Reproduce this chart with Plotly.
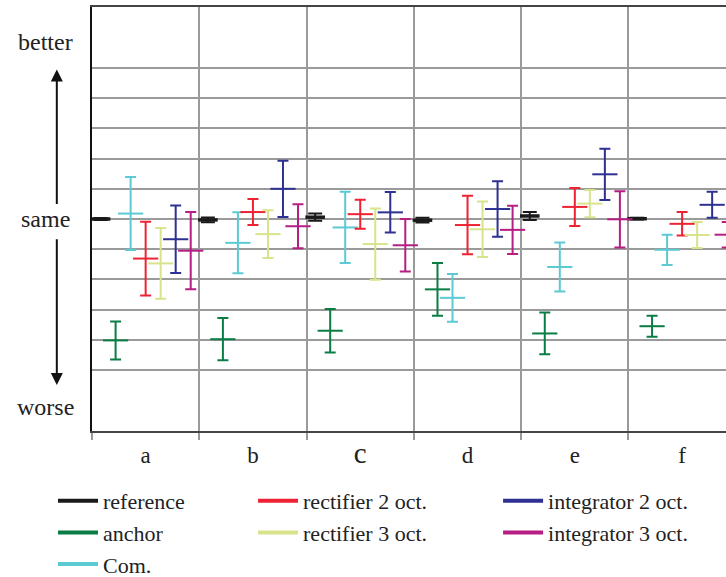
import plotly.graph_objects as go

categories = ["a", "b", "c", "d", "e", "f"]
tick_labels = ["a", "b", "<span style='font-size:29px'>c</span>", "d", "e", "f"]

series_names = ["reference", "anchor", "Com.", "rectifier 2 oct.", "rectifier 3 oct.",
                "integrator 2 oct.", "integrator 3 oct."]

reference_mean = [0.00, -0.03, 0.06, -0.04, 0.10, 0.01]
reference_err = [0.03, 0.08, 0.12, 0.08, 0.13, 0.03]

anchor_mean = [-4.02, -3.98, -3.70, -2.33, -3.79, -3.55]
anchor_err = [0.63, 0.70, 0.72, 0.87, 0.69, 0.35]

com_mean = [0.18, -0.79, -0.28, -2.61, -1.59, -1.02]
com_err = [1.21, 1.01, 1.18, 0.79, 0.81, 0.50]

rect2_mean = [-1.31, 0.23, 0.16, -0.20, 0.40, -0.16]
rect2_err = [1.22, 0.43, 0.48, 0.97, 0.63, 0.39]

rect3_mean = [-1.47, -0.50, -0.83, -0.34, 0.51, -0.53]
rect3_err = [1.17, 0.79, 1.18, 0.92, 0.45, 0.43]

int2_mean = [-0.67, 1.00, 0.22, 0.33, 1.48, 0.47]
int2_err = [1.12, 0.93, 0.67, 0.92, 0.85, 0.43]

int3_mean = [-1.05, -0.24, -0.87, -0.36, -0.01, -0.52]
int3_err = [1.28, 0.73, 0.87, 0.80, 0.93, 0.42]

colors = ["#1a1a1a", "#0a7d45", "#5ccad3", "#ee2232", "#d9e38c", "#2e3192", "#b51f83"]

means = [reference_mean, anchor_mean, com_mean, rect2_mean, rect3_mean, int2_mean, int3_mean]
errs = [reference_err, anchor_err, com_err, rect2_err, rect3_err, int2_err, int3_err]

FONT = "Liberation Serif"
n_series = len(series_names)
spacing = 0.14

fig = go.Figure()
for i, (name, m, e, c) in enumerate(zip(series_names, means, errs, colors)):
    xs = [k + (i - (n_series - 1) / 2) * spacing for k in range(len(categories))]
    is_ref = (i == 0)
    fig.add_trace(go.Scatter(
        x=xs, y=m, mode="markers", name=name, showlegend=False,
        marker=dict(symbol="line-ew", size=14 if is_ref else 18, color=c,
                    line=dict(color=c, width=3.5 if is_ref else 2)),
        error_y=dict(type="data", array=e, visible=True, color=c,
                     thickness=2, width=7 if is_ref else 5.5),
    ))

# legend entries (three column legends)
legend_cols = [["reference", "anchor", "Com."],
               ["rectifier 2 oct.", "rectifier 3 oct."],
               ["integrator 2 oct.", "integrator 3 oct."]]
legend_ids = ["legend", "legend2", "legend3"]
for col, lid in zip(legend_cols, legend_ids):
    for name in col:
        c = colors[series_names.index(name)]
        fig.add_trace(go.Scatter(x=[None], y=[None], mode="lines", name=name,
                                 line=dict(color=c, width=4), legend=lid,
                                 showlegend=True))

legend_common = dict(orientation="v", yanchor="top", xanchor="left",
                     yref="container", y=0.168,
                     font=dict(family=FONT, size=22, color="#222"),
                     bgcolor="rgba(0,0,0,0)", tracegroupgap=0, itemwidth=40)

fig.update_layout(
    width=726, height=577,
    margin=dict(l=92, r=0, t=7, b=146),
    plot_bgcolor="white", paper_bgcolor="white",
    font=dict(family=FONT, size=23, color="#222"),
    legend=dict(x=-0.0615, **legend_common),
    legend2=dict(x=0.254, **legend_common),
    legend3=dict(x=0.6405, **legend_common),
    xaxis=dict(
        range=[-0.5, 5.409], tickmode="array", tickvals=list(range(len(categories))),
        ticktext=tick_labels, showgrid=False, zeroline=False,
        showline=True, linecolor="#444", linewidth=2, mirror=True,
        ticks="", tickfont=dict(family=FONT, size=23, color="#222"),
        ticklabelstandoff=2,
        minor=dict(tick0=0.5, dtick=1, showgrid=True, gridcolor="#9a9a9a",
                   gridwidth=2, ticks="outside", ticklen=7, tickcolor="#9a9a9a",
                   tickwidth=2),
    ),
    yaxis=dict(
        range=[-7.02, 7.02], tickmode="array", tickvals=list(range(-5, 6)),
        showticklabels=False, showgrid=True, gridcolor="#9a9a9a", gridwidth=2,
        zeroline=False, showline=True, linecolor="#111", linewidth=2, ticks="",
    ),
)

# y labels and arrows
lx = -0.0735
for txt, yv in [("better", 5.86), ("same", 0.0), ("worse", -6.22)]:
    fig.add_annotation(xref="paper", yref="y", x=lx, y=yv, text=txt, showarrow=False,
                       font=dict(family=FONT, size=24, color="#222"),
                       xanchor="center", yanchor="middle")
fig.add_annotation(xref="paper", yref="y", x=-0.0555, y=4.95, ax=0, ayref="y", ay=0.45,
                   text="", showarrow=True, arrowhead=2, arrowsize=1.2, arrowwidth=2,
                   arrowcolor="#111")
fig.add_annotation(xref="paper", yref="y", x=-0.0555, y=-5.5, ax=0, ayref="y", ay=-0.62,
                   text="", showarrow=True, arrowhead=2, arrowsize=1.2, arrowwidth=2,
                   arrowcolor="#111")

fig.write_html("out.html", config={"displayModeBar": False},
               post_script="document.body.style.margin='0';")
